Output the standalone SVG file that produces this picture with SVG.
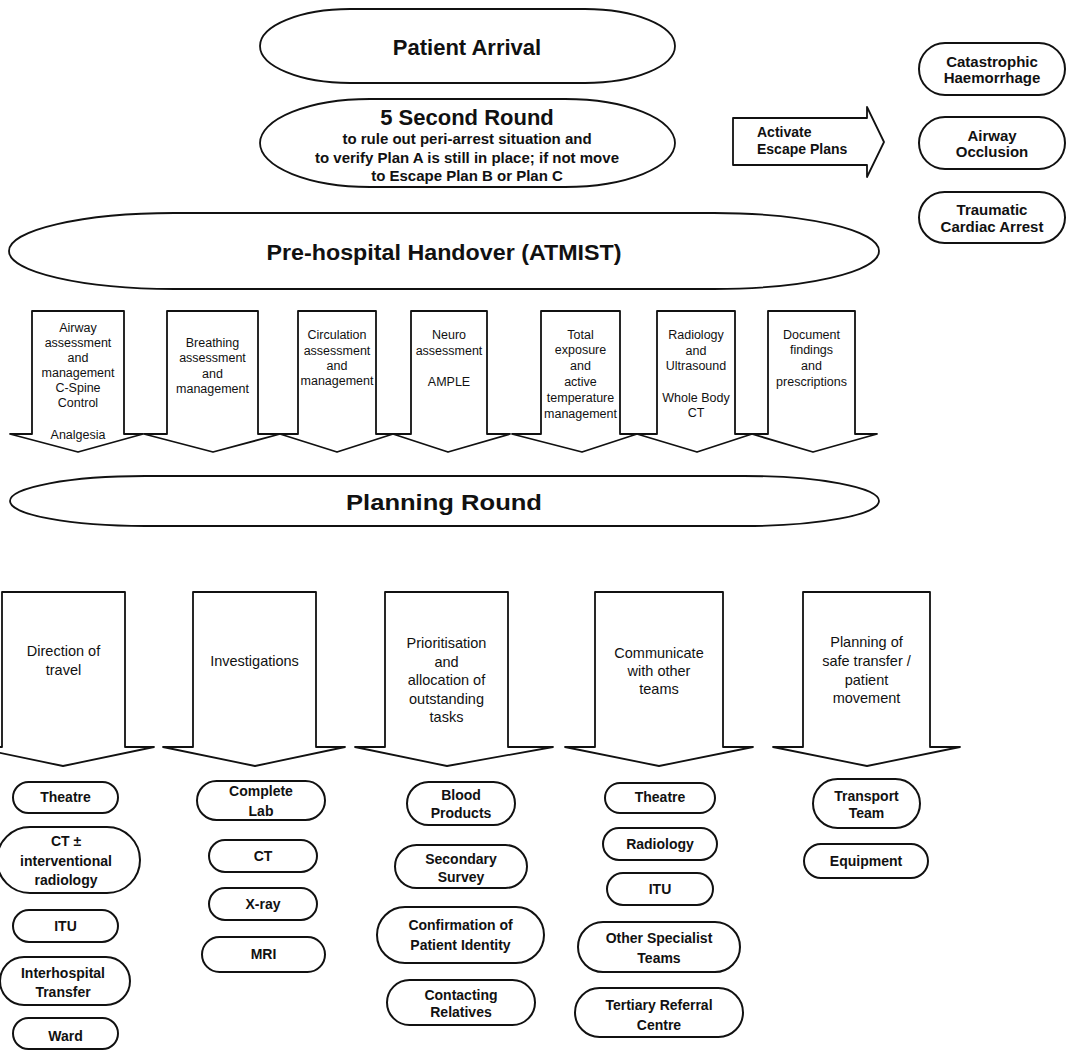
<svg xmlns="http://www.w3.org/2000/svg" width="1068" height="1051" viewBox="0 0 1068 1051">
<style>
.bg{fill:#ffffff}
.shape{fill:#ffffff;stroke:#111;stroke-width:1.8;stroke-linejoin:round}
.pill{fill:#ffffff;stroke:#111;stroke-width:2}
.big{font-family:"Liberation Sans",Arial,sans-serif;font-weight:bold;font-size:22px;fill:#111;text-anchor:middle}
.sub{font-family:"Liberation Sans",Arial,sans-serif;font-weight:bold;font-size:15px;fill:#111;text-anchor:middle}
.esc{font-family:"Liberation Sans",Arial,sans-serif;font-weight:bold;font-size:15px;fill:#111;text-anchor:middle}
.act{font-family:"Liberation Sans",Arial,sans-serif;font-weight:bold;font-size:14px;fill:#111}
.ar{font-family:"Liberation Sans",Arial,sans-serif;font-size:12.5px;fill:#111;text-anchor:middle}
.br{font-family:"Liberation Sans",Arial,sans-serif;font-size:14.5px;fill:#111;text-anchor:middle}
.pt{font-family:"Liberation Sans",Arial,sans-serif;font-weight:bold;font-size:14px;fill:#111;text-anchor:middle}
</style>
<rect class="bg" x="0" y="0" width="1068" height="1051"/>

<g id="patient-arrival">
<rect class="shape" x="260" y="9" width="415" height="74" rx="90" ry="37"/>
<text class="big" x="467" y="55">Patient Arrival</text>
</g>

<g id="five-second-round">
<rect class="shape" x="260" y="99" width="415" height="88" rx="110" ry="44"/>
<text class="big" x="467" y="125">5 Second Round</text>
<text class="sub" x="467" y="144">to rule out peri-arrest situation and</text>
<text class="sub" x="467" y="163">to verify Plan A is still in place; if not move</text>
<text class="sub" x="467" y="181">to Escape Plan B or Plan C</text>
</g>

<g id="activate-escape-plans">
<path class="shape" d="M733,118 L867,118 L867,107 L884,142 L867,177 L867,165 L733,165 Z"/>
<text class="act" x="757" y="137">Activate</text>
<text class="act" x="757" y="154">Escape Plans</text>
</g>

<g id="catastrophic-haemorrhage">
<rect class="pill" x="919" y="43" width="146" height="52" rx="26"/>
<text class="esc" x="992" y="67">Catastrophic</text>
<text class="esc" x="992" y="83">Haemorrhage</text>
</g>
<g id="airway-occlusion">
<rect class="pill" x="919" y="117" width="146" height="52" rx="26"/>
<text class="esc" x="992" y="141">Airway</text>
<text class="esc" x="992" y="157">Occlusion</text>
</g>
<g id="traumatic-cardiac-arrest">
<rect class="pill" x="919" y="192" width="146" height="51" rx="25.5"/>
<text class="esc" x="992" y="215">Traumatic</text>
<text class="esc" x="992" y="232">Cardiac Arrest</text>
</g>

<g id="prehospital-handover">
<rect class="shape" x="9" y="213" width="870" height="76" rx="165" ry="38"/>
<text class="big" x="444" y="260" font-size="25" textLength="355" lengthAdjust="spacingAndGlyphs">Pre-hospital Handover (ATMIST)</text>
</g>

<g id="airway">
<path class="shape" d="M32,311 L124,311 L124,434 L143,434 L78,452 L10,434 L32,434 Z"/>
<text class="ar" x="78" y="332">Airway</text>
<text class="ar" x="78" y="347">assessment</text>
<text class="ar" x="78" y="362">and</text>
<text class="ar" x="78" y="377">management</text>
<text class="ar" x="78" y="392">C-Spine</text>
<text class="ar" x="78" y="407">Control</text>
<text class="ar" x="78" y="439">Analgesia</text>
</g>
<g id="breathing">
<path class="shape" d="M167,311 L258,311 L258,434 L280,434 L213,452 L144,434 L167,434 Z"/>
<text class="ar" x="212.5" y="347">Breathing</text>
<text class="ar" x="212.5" y="362">assessment</text>
<text class="ar" x="212.5" y="378">and</text>
<text class="ar" x="212.5" y="393">management</text>
</g>
<g id="circulation">
<path class="shape" d="M298,311 L376,311 L376,434 L393,434 L337,452 L280,434 L298,434 Z"/>
<text class="ar" x="337" y="339">Circulation</text>
<text class="ar" x="337" y="355">assessment</text>
<text class="ar" x="337" y="370">and</text>
<text class="ar" x="337" y="385">management</text>
</g>
<g id="neuro">
<path class="shape" d="M411,311 L487,311 L487,434 L510,434 L448,452 L393,434 L411,434 Z"/>
<text class="ar" x="449" y="339">Neuro</text>
<text class="ar" x="449" y="355">assessment</text>
<text class="ar" x="449" y="386">AMPLE</text>
</g>
<g id="exposure">
<path class="shape" d="M541,311 L620,311 L620,434 L637,434 L582,452 L512,434 L541,434 Z"/>
<text class="ar" x="580.5" y="339">Total</text>
<text class="ar" x="580.5" y="354">exposure</text>
<text class="ar" x="580.5" y="370">and</text>
<text class="ar" x="580.5" y="386">active</text>
<text class="ar" x="580.5" y="402">temperature</text>
<text class="ar" x="580.5" y="418">management</text>
</g>
<g id="radiology-ultrasound">
<path class="shape" d="M657,311 L735,311 L735,434 L752,434 L697,452 L637,434 L657,434 Z"/>
<text class="ar" x="696" y="339">Radiology</text>
<text class="ar" x="696" y="355">and</text>
<text class="ar" x="696" y="370">Ultrasound</text>
<text class="ar" x="696" y="402">Whole Body</text>
<text class="ar" x="696" y="417">CT</text>
</g>
<g id="document-findings">
<path class="shape" d="M768,311 L855,311 L855,434 L877,434 L813,452 L752,434 L768,434 Z"/>
<text class="ar" x="811.5" y="339">Document</text>
<text class="ar" x="811.5" y="354">findings</text>
<text class="ar" x="811.5" y="370">and</text>
<text class="ar" x="811.5" y="386">prescriptions</text>
</g>

<g id="planning-round">
<rect class="shape" x="10" y="476" width="869" height="50" rx="135" ry="25"/>
<text class="big" x="444" y="510" font-size="26" textLength="196" lengthAdjust="spacingAndGlyphs">Planning Round</text>
</g>

<g id="direction-of-travel">
<path class="shape" d="M2,592 L125,592 L125,747 L154,747 L63,766 L-28,747 L2,747 Z"/>
<text class="br" x="63.5" y="656">Direction of</text>
<text class="br" x="63.5" y="675">travel</text>
</g>
<g id="investigations">
<path class="shape" d="M193,592 L316,592 L316,747 L345,747 L255,766 L163,747 L193,747 Z"/>
<text class="br" x="254.5" y="666">Investigations</text>
</g>
<g id="prioritisation">
<path class="shape" d="M385,592 L508,592 L508,747 L553,747 L447,766 L355,747 L385,747 Z"/>
<text class="br" x="446.5" y="648">Prioritisation</text>
<text class="br" x="446.5" y="666.5">and</text>
<text class="br" x="446.5" y="685">allocation of</text>
<text class="br" x="446.5" y="703.5">outstanding</text>
<text class="br" x="446.5" y="722">tasks</text>
</g>
<g id="communicate">
<path class="shape" d="M595,592 L723,592 L723,747 L753,747 L659,766 L565,747 L595,747 Z"/>
<text class="br" x="659" y="658">Communicate</text>
<text class="br" x="659" y="676">with other</text>
<text class="br" x="659" y="694">teams</text>
</g>
<g id="planning-transfer">
<path class="shape" d="M803,592 L930,592 L930,747 L960,747 L867,766 L773,747 L803,747 Z"/>
<text class="br" x="866.5" y="647">Planning of</text>
<text class="br" x="866.5" y="666">safe transfer /</text>
<text class="br" x="866.5" y="685">patient</text>
<text class="br" x="866.5" y="703">movement</text>
</g>

<g id="dot-theatre">
<rect class="pill" x="13" y="782" width="105" height="31" rx="15.5"/>
<text class="pt" x="65.5" y="802">Theatre</text>
</g>
<g id="dot-ct-ir">
<rect class="pill" x="-3" y="827" width="143" height="66" rx="33"/>
<text class="pt" x="66" y="846">CT ±</text>
<text class="pt" x="66" y="866">interventional</text>
<text class="pt" x="66" y="885">radiology</text>
</g>
<g id="dot-itu">
<rect class="pill" x="13" y="910" width="105" height="32" rx="16"/>
<text class="pt" x="65.5" y="931">ITU</text>
</g>
<g id="dot-interhospital">
<rect class="pill" x="0" y="957" width="130" height="48" rx="24"/>
<text class="pt" x="63" y="978">Interhospital</text>
<text class="pt" x="63" y="997">Transfer</text>
</g>
<g id="dot-ward">
<rect class="pill" x="13" y="1018" width="105" height="31" rx="15.5"/>
<text class="pt" x="65.5" y="1041">Ward</text>
</g>

<g id="inv-complete-lab">
<rect class="pill" x="197" y="781" width="128" height="39" rx="19.5"/>
<text class="pt" x="261" y="796">Complete</text>
<text class="pt" x="261" y="816">Lab</text>
</g>
<g id="inv-ct">
<rect class="pill" x="209" y="840" width="108" height="32" rx="16"/>
<text class="pt" x="263" y="861">CT</text>
</g>
<g id="inv-xray">
<rect class="pill" x="209" y="888" width="108" height="32" rx="16"/>
<text class="pt" x="263" y="909">X-ray</text>
</g>
<g id="inv-mri">
<rect class="pill" x="202" y="937" width="123" height="35" rx="17.5"/>
<text class="pt" x="263.5" y="959">MRI</text>
</g>

<g id="pri-blood">
<rect class="pill" x="407" y="782" width="108" height="43" rx="21.5"/>
<text class="pt" x="461" y="800">Blood</text>
<text class="pt" x="461" y="818">Products</text>
</g>
<g id="pri-secondary">
<rect class="pill" x="395" y="845" width="132" height="43" rx="21.5"/>
<text class="pt" x="461" y="864">Secondary</text>
<text class="pt" x="461" y="882">Survey</text>
</g>
<g id="pri-confirmation">
<rect class="pill" x="377" y="907" width="167" height="56" rx="28"/>
<text class="pt" x="460.5" y="930">Confirmation of</text>
<text class="pt" x="460.5" y="950">Patient Identity</text>
</g>
<g id="pri-relatives">
<rect class="pill" x="387" y="980" width="148" height="45" rx="22.5"/>
<text class="pt" x="461" y="1000">Contacting</text>
<text class="pt" x="461" y="1017">Relatives</text>
</g>

<g id="com-theatre">
<rect class="pill" x="605" y="783" width="110" height="30" rx="15"/>
<text class="pt" x="660" y="802">Theatre</text>
</g>
<g id="com-radiology">
<rect class="pill" x="603" y="828" width="114" height="32" rx="16"/>
<text class="pt" x="660" y="849">Radiology</text>
</g>
<g id="com-itu">
<rect class="pill" x="607" y="873" width="106" height="32" rx="16"/>
<text class="pt" x="660" y="894">ITU</text>
</g>
<g id="com-specialist">
<rect class="pill" x="578" y="922" width="162" height="50" rx="25"/>
<text class="pt" x="659" y="943">Other Specialist</text>
<text class="pt" x="659" y="963">Teams</text>
</g>
<g id="com-tertiary">
<rect class="pill" x="575" y="988" width="168" height="49" rx="24.5"/>
<text class="pt" x="659" y="1010">Tertiary Referral</text>
<text class="pt" x="659" y="1030">Centre</text>
</g>

<g id="tr-transport-team">
<rect class="pill" x="813" y="779" width="107" height="49" rx="24.5"/>
<text class="pt" x="866.5" y="801">Transport</text>
<text class="pt" x="866.5" y="818">Team</text>
</g>
<g id="tr-equipment">
<rect class="pill" x="804" y="844" width="124" height="34" rx="17"/>
<text class="pt" x="866" y="866">Equipment</text>
</g>

<g id="connectors"></g>
</svg>
